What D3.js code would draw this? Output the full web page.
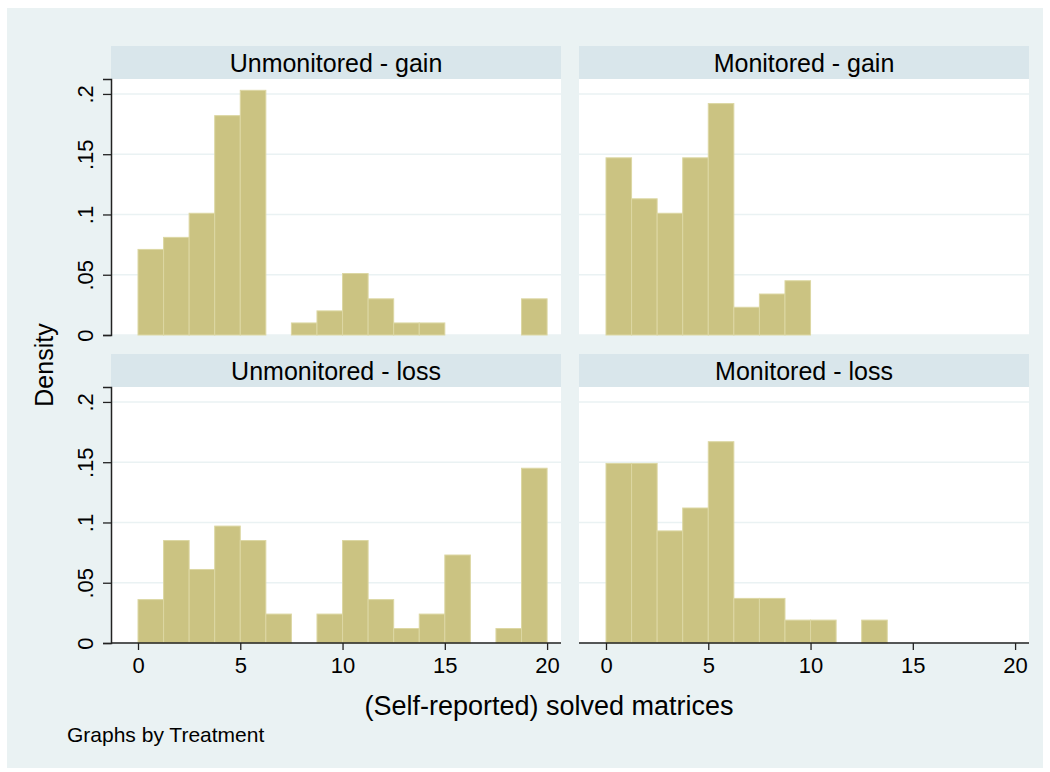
<!DOCTYPE html>
<html>
<head>
<meta charset="utf-8">
<script src="https://cdn.jsdelivr.net/npm/d3@7"></script>
<style>
  body { margin: 0; background: #fff; }
  text { font-family: "Liberation Sans", Arial, sans-serif; fill: #000; }
</style>
</head>
<body>
<div id="chart"></div>
<script>
// bin edges: 0, 1.25, 2.5 ... 20 (16 bins)
const binWidth = 1.25;
const panelTitles = ["Unmonitored - gain", "Monitored - gain", "Unmonitored - loss", "Monitored - loss"];
const unmonitoredGain = [0.071, 0.081, 0.101, 0.182, 0.203, 0, 0.010, 0.020, 0.051, 0.030, 0.010, 0.010, 0, 0, 0, 0.030];
const monitoredGain = [0.147, 0.113, 0.101, 0.147, 0.192, 0.023, 0.034, 0.045];
const unmonitoredLoss = [0.036, 0.085, 0.061, 0.097, 0.085, 0.024, 0, 0.024, 0.085, 0.036, 0.012, 0.024, 0.073, 0, 0.012, 0.145];
const monitoredLoss = [0.149, 0.149, 0.093, 0.112, 0.167, 0.037, 0.037, 0.019, 0.019, 0, 0.019];
const xTicks = [0, 5, 10, 15, 20];
const yTicks = [0, 0.05, 0.1, 0.15, 0.2];
const yTickLabels = ["0", ".05", ".1", ".15", ".2"];

const W = 1050, H = 772;
const panelW = 450, plotH = 256, stripH = 33;
const colX = [111, 579];
const rowY = [46, 354]; // strip tops

const svg = d3.select("#chart").append("svg")
  .attr("width", W).attr("height", H);

svg.append("rect").attr("x", 7).attr("y", 8).attr("width", 1036).attr("height", 760)
  .attr("fill", "#eaf2f3");

const x = d3.scaleLinear().domain([-1.32, 20.68]).range([0, panelW]);
const y = d3.scaleLinear().domain([0, 0.2124]).range([plotH, 0]);

const panels = [unmonitoredGain, monitoredGain, unmonitoredLoss, monitoredLoss];

panels.forEach((vals, i) => {
  const col = i % 2, row = Math.floor(i / 2);
  const g = svg.append("g").attr("transform", "translate(" + colX[col] + "," + rowY[row] + ")");

  // strip
  g.append("rect").attr("width", panelW).attr("height", stripH).attr("fill", "#d9e6eb");
  g.append("text").attr("x", panelW / 2).attr("y", stripH / 2 + 9)
    .attr("text-anchor", "middle").style("font-size", "25px").text(panelTitles[i]);

  const p = g.append("g").attr("transform", "translate(0," + stripH + ")");
  p.append("rect").attr("width", panelW).attr("height", plotH).attr("fill", "#fff");

  // gridlines
  p.selectAll(".grid").data(yTicks).enter().append("line")
    .attr("x1", 0).attr("x2", panelW)
    .attr("y1", d => y(d)).attr("y2", d => y(d))
    .attr("stroke", "#eaf2f3").attr("stroke-width", 1.5);

  // bars
  const bins = vals.map((v, k) => ({ x0: k * binWidth, x1: (k + 1) * binWidth, v: v }))
    .filter(d => d.v > 0);
  p.selectAll(".bar").data(bins).enter().append("rect")
    .attr("x", d => x(d.x0))
    .attr("y", d => y(d.v))
    .attr("width", d => x(d.x1) - x(d.x0))
    .attr("height", d => plotH - y(d.v))
    .attr("fill", "#cbc382")
    .attr("stroke", "#dcd7a3").attr("stroke-width", 1);

  if (col === 0) {
    const ya = p.append("g")
      .call(d3.axisLeft(y).tickValues(yTicks).tickSize(8).tickFormat((d, k) => yTickLabels[k]));
    ya.select(".domain").attr("stroke", "#222").attr("stroke-width", 1.5);
    ya.selectAll(".tick line").attr("stroke", "#222").attr("stroke-width", 1.3);
    ya.selectAll(".tick text")
      .attr("x", 0).attr("dy", 0)
      .attr("transform", "translate(-18,0) rotate(-90)")
      .attr("text-anchor", "middle")
      .style("font-size", "22px").style("font-family", "Liberation Sans, Arial, sans-serif");
  }
  if (row === 1) {
    const xa = p.append("g").attr("transform", "translate(0," + plotH + ")")
      .call(d3.axisBottom(x).tickValues(xTicks).tickSize(7).tickFormat(d3.format("d")));
    xa.select(".domain").attr("stroke", "#222").attr("stroke-width", 1.5).attr("d", "M0,0H" + panelW);
    xa.selectAll(".tick line").attr("stroke", "#222").attr("stroke-width", 1.3);
    xa.selectAll(".tick text").attr("y", 14)
      .style("font-size", "22px").style("font-family", "Liberation Sans, Arial, sans-serif");
  }
});

svg.append("text").attr("transform", "translate(53,365) rotate(-90)")
  .attr("text-anchor", "middle").style("font-size", "25px").text("Density");

svg.append("text").attr("x", 549).attr("y", 715)
  .attr("text-anchor", "middle").style("font-size", "27px").text("(Self-reported) solved matrices");

svg.append("text").attr("x", 67).attr("y", 742)
  .style("font-size", "21px").text("Graphs by Treatment");
</script>
</body>
</html>
